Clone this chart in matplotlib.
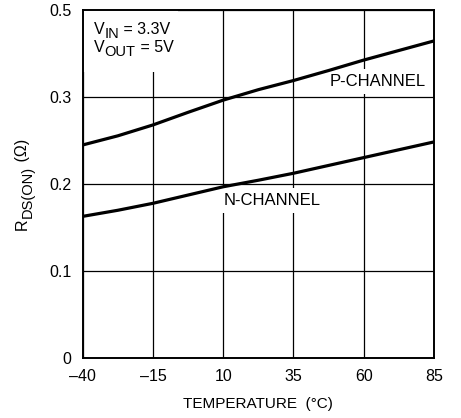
import matplotlib
matplotlib.use("Agg")
import matplotlib.pyplot as plt
from matplotlib.patches import Rectangle

plt.rcParams['font.family'] = ['Liberation Sans', 'DejaVu Sans']

# Data
temps = [-40, -27.5, -15, -2.5, 10, 22.5, 35, 47.5, 60, 72.5, 85]
p_channel = [0.245, 0.2555, 0.268, 0.2825, 0.2965, 0.3085, 0.319, 0.3305, 0.3425, 0.3535, 0.3645]
n_channel = [0.163, 0.1700, 0.178, 0.1875, 0.1970, 0.2045, 0.2125, 0.2215, 0.2305, 0.2395, 0.2485]

x_ticks = [-40, -15, 10, 35, 60, 85]
x_tick_labels = ['\u201340', '\u201315', '10', '35', '60', '85']
y_ticks = [0, 0.1, 0.2, 0.3, 0.4]
y_tick_labels = ['0', '0.1', '0.2', '0.3', '0.5']

FS = 11.5
SUB = 10.5

fig = plt.figure(figsize=(4.61, 4.18), dpi=100)
ax = fig.add_axes([82.7 / 461, 1 - 358.3 / 418, (434 - 82.7) / 461, (358.3 - 10) / 418])

ax.plot(temps, p_channel, color='black', lw=2.3, zorder=3, solid_capstyle='butt')
ax.plot(temps, n_channel, color='black', lw=2.3, zorder=3, solid_capstyle='butt')

ax.set_xlim(-40, 85)
ax.set_ylim(0, 0.4)
ax.set_xticks(x_ticks)
ax.set_xticklabels(x_tick_labels)
ax.set_yticks(y_ticks)
ax.set_yticklabels(y_tick_labels)
ax.tick_params(length=0, labelsize=FS, colors='black')
ax.tick_params(axis='x', pad=8)
ax.tick_params(axis='y', pad=8)
ax.set_axisbelow(True)
ax.grid(True, color='black', lw=0.9, zorder=0.5)
for s in ax.spines.values():
    s.set_linewidth(1.4)
    s.set_color('black')

ax.set_xlabel('TEMPERATURE  (\u00b0C)', fontsize=11, labelpad=9)

# white box behind the condition text
ax.add_patch(Rectangle((0, 0.822), 0.27, 0.178, transform=ax.transAxes,
                       facecolor='white', edgecolor='none', zorder=1))

def sub_label(x, y, main, sub, rest):
    t1 = ax.text(x, y, main, transform=ax.transAxes, fontsize=FS,
                 ha='left', va='bottom', zorder=4)
    t2 = ax.annotate(sub, xy=(1, 0), xycoords=t1, xytext=(0, -3),
                     textcoords='offset points', fontsize=SUB,
                     ha='left', va='bottom', zorder=4)
    ax.annotate(rest, xy=(1, 0), xycoords=t2, xytext=(0, 3),
                textcoords='offset points', fontsize=FS,
                ha='left', va='bottom', zorder=4)

sub_label(0.032, 0.922, 'V', 'IN', ' = 3.3V')
sub_label(0.032, 0.870, 'V', 'OUT', ' = 5V')

box = dict(facecolor='white', edgecolor='none', boxstyle='square,pad=0.3')
ax.text(82.2, 0.3179, 'P-CHANNEL', fontsize=12, ha='right', va='center',
        zorder=2, bbox=box)
ax.text(10.3, 0.1807, 'N-CHANNEL', fontsize=12, ha='left', va='center',
        zorder=2, bbox=box)

# y label with subscript, rotated
y1 = fig.text(30 / 461, 1 - 230 / 418, 'R', rotation=90, fontsize=FS,
              ha='right', va='bottom')
y2 = plt.annotate('DS(ON)', xy=(1, 1), xycoords=y1, xytext=(3.5, 0),
                  textcoords='offset points', rotation=90, fontsize=SUB,
                  ha='right', va='bottom', annotation_clip=False)
plt.annotate(' (\u03a9)', xy=(1, 1), xycoords=y2, xytext=(-3.5, 0),
             textcoords='offset points', rotation=90, fontsize=FS,
             ha='right', va='bottom', annotation_clip=False)

fig.savefig('out.png', dpi=100)
